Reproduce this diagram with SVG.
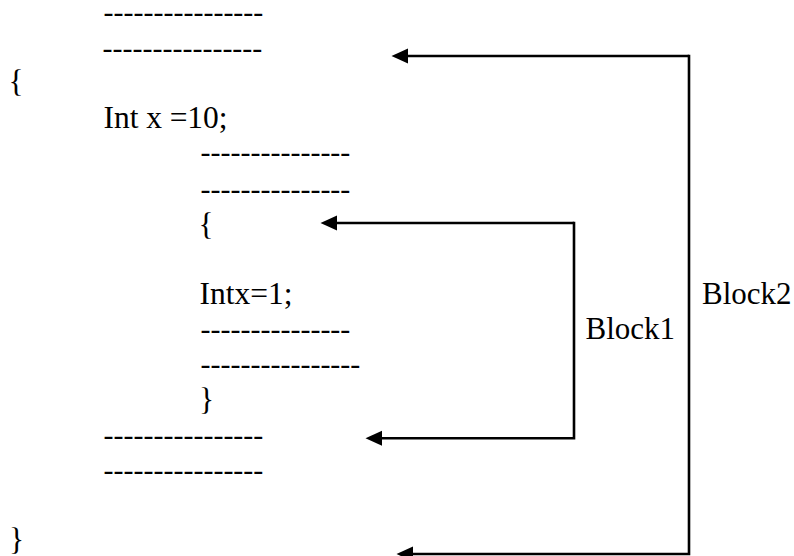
<svg xmlns="http://www.w3.org/2000/svg" width="794" height="556" viewBox="0 0 794 556">
  <style>
    text { font-family: "Liberation Serif", "Times New Roman", serif; fill: #000; }
    .code { font-size: 31.5px; }
    .dash { font-size: 30px; }
    .label { font-size: 31px; }
    .conn { fill: none; stroke: #000; stroke-width: 2.6; stroke-linejoin: miter; }
  </style>
  <defs>
    <marker id="arrow" markerUnits="userSpaceOnUse" markerWidth="17" markerHeight="16"
            viewBox="0 0 17 16" refX="0" refY="8" orient="auto">
      <path d="M0,0.5 L16.5,8 L0,15.5 Z" fill="#000"/>
    </marker>
  </defs>

  <rect width="794" height="556" fill="#fff"/>

  <!-- outer block: statements, braces and declaration -->
  <g id="outer-block">
    <text class="dash" x="103.5" y="21.8">----------------</text>
    <text class="dash" x="102.5" y="57.5">----------------</text>
    <text class="code" x="8.5" y="92">{</text>
    <text class="code" x="103.5" y="128" textLength="124">Int x =10;</text>
    <text class="dash" x="103.5" y="444.5">----------------</text>
    <text class="dash" x="103.5" y="479.8">----------------</text>
    <text class="code" x="9" y="549.5">}</text>
  </g>

  <!-- inner block -->
  <g id="inner-block">
    <text class="dash" x="200.5" y="161.8">---------------</text>
    <text class="dash" x="200.5" y="198.5">---------------</text>
    <text class="code" x="198.5" y="234.5">{</text>
    <text class="code" x="199.5" y="304">Intx=1;</text>
    <text class="dash" x="200.5" y="338.5">---------------</text>
    <text class="dash" x="200.5" y="373.8">----------------</text>
    <text class="code" x="199" y="409.5">}</text>
  </g>

  <g id="label-block1">
    <text class="label" x="585.5" y="339">Block1</text>
  </g>
  <g id="label-block2">
    <text class="label" x="702" y="304">Block2</text>
  </g>

  <!-- bracket connectors marking each block's extent -->
  <g id="connectors">
    <path class="conn" d="M574,223 L337,223" marker-end="url(#arrow)"/>
    <path class="conn" d="M574,221.7 L574,438.3 L382,438.3" marker-end="url(#arrow)"/>
    <path class="conn" d="M689,56 L408,56" marker-end="url(#arrow)"/>
    <path class="conn" d="M689,54.7 L689,554 L413,554" marker-end="url(#arrow)"/>
  </g>
</svg>
